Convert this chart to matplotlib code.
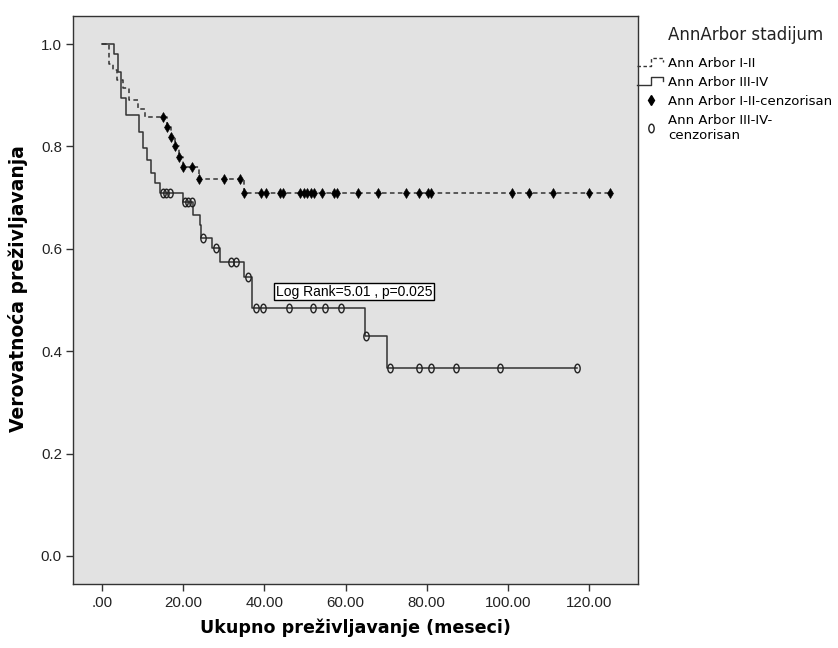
import numpy as np
import matplotlib
matplotlib.use('Agg')
import matplotlib.pyplot as plt
from matplotlib.path import Path
from matplotlib.lines import Line2D
from matplotlib.legend_handler import HandlerBase
from matplotlib.transforms import Affine2D

plt.rcParams['font.family'] = ['Liberation Sans', 'DejaVu Sans']

# Ann Arbor I-II : vremena dogadjaja, prezivljavanje, cenzorisani
t_12 = [1.8, 2.8, 3.8, 5.2, 6.8, 9.0, 10.7, 16.0, 17.0, 18.0, 19.0, 20.0, 24.0, 35.0]
s_12 = [0.962, 0.950, 0.930, 0.915, 0.891, 0.874, 0.857, 0.838, 0.818, 0.800,
        0.779, 0.759, 0.736, 0.710]
c_12 = [15.1, 16.0, 17.0, 18.0, 19.0, 20.0, 22.1, 24.0, 30.0, 34.1, 35.0, 39.2,
        40.3, 43.8, 44.7, 48.9, 49.8, 50.6, 51.4, 52.2, 54.1, 57.1, 58.0, 63.1,
        68.0, 75.0, 78.1, 80.2, 81.0, 101.1, 105.1, 111.0, 120.0, 125.0]

# Ann Arbor III-IV
t_34 = [3.0, 4.0, 4.8, 5.9, 9.1, 10.1, 11.2, 12.1, 13.1, 14.3, 20.0, 22.5, 24.1,
        24.5, 27.0, 29.1, 35.0, 36.9, 64.8, 70.1]
s_34 = [0.980, 0.946, 0.895, 0.861, 0.829, 0.797, 0.773, 0.748, 0.728, 0.710,
        0.692, 0.666, 0.646, 0.622, 0.601, 0.575, 0.545, 0.484, 0.430, 0.368]
c_34 = [15.1, 15.9, 16.7, 20.4, 21.3, 22.1, 24.9, 28.0, 31.9, 33.0, 36.0, 37.9,
        39.7, 46.1, 51.9, 54.9, 59.0, 65.0, 70.9, 78.1, 81.0, 87.1, 98.0, 117.1]

xticks = [0, 20, 40, 60, 80, 100, 120]
xticklabels = ['.00', '20.00', '40.00', '60.00', '80.00', '100.00', '120.00']
yticks = [0.0, 0.2, 0.4, 0.6, 0.8, 1.0]
yticklabels = ['0.0', '0.2', '0.4', '0.6', '0.8', '1.0']

labels = ['Ann Arbor I-II', 'Ann Arbor III-IV', 'Ann Arbor I-II-cenzorisan',
          'Ann Arbor III-IV-\ncenzorisan']


def km_curve(t, s, c):
    x = [0.0] + list(t) + [max(c)]
    y = [1.0] + list(s) + [s[-1]]
    full = np.array([1.0] + list(s))
    idx = np.searchsorted(np.array(t), np.array(c), side='right')
    return x, y, full[idx]


# marker u obliku nule (elipsa)
ellipse = Path.unit_circle().transformed(Affine2D().scale(0.62, 1.0))


class StepHandler(HandlerBase):
    def create_artists(self, legend, orig, xdescent, ydescent, width, height,
                       fontsize, trans):
        x0 = -xdescent
        y0 = -ydescent
        xs = [x0, x0 + 0.5 * width, x0 + 0.5 * width, x0 + 0.95 * width, x0 + 0.95 * width]
        ys = [y0 + 0.1 * height, y0 + 0.1 * height, y0 + 1.0 * height,
              y0 + 1.0 * height, y0 + 0.5 * height]
        ln = Line2D(xs, ys, color=orig.get_color(), linewidth=orig.get_linewidth(),
                    transform=trans)
        if orig.get_linestyle() == '--':
            ln.set_dashes((2.5, 1.8))
        return [ln]


fig = plt.figure(figsize=(8.38, 6.48), dpi=100)
ax = fig.add_axes([73 / 838, 1 - 584 / 648, (638 - 73) / 838, (584 - 16) / 648])
ax.set_facecolor('#e2e2e2')

lc = '#333333'
x12, y12, cy12 = km_curve(t_12, s_12, c_12)
x34, y34, cy34 = km_curve(t_34, s_34, c_34)

ax.step(x12, y12, where='post', color=lc, lw=1.1, dashes=(3, 2.2))
ax.step(x34, y34, where='post', color=lc, lw=1.1)
ax.plot(c_12, cy12, linestyle='none', marker='d', markersize=5.5,
        color='black', markeredgewidth=0.4)
ax.plot(c_34, cy34, linestyle='none', marker=ellipse, markersize=6.2,
        markerfacecolor='none', markeredgecolor='#222222', markeredgewidth=1.0)

ax.text(42.8, 0.516, 'Log Rank=5.01 , p=0.025', fontsize=10, va='center', ha='left',
        bbox=dict(boxstyle='square,pad=0.1', facecolor='white', edgecolor='black', lw=1.0))

ax.set_xlim(-7.1, 132)
ax.set_ylim(-0.055, 1.055)
ax.set_xticks(xticks)
ax.set_xticklabels(xticklabels)
ax.set_yticks(yticks)
ax.set_yticklabels(yticklabels)
ax.tick_params(direction='out', length=5, width=1.0, color='#333333',
               labelsize=10.8, labelcolor='#222222')
ax.tick_params(axis='x', pad=3.5)
ax.tick_params(axis='y', pad=3)
for sp in ax.spines.values():
    sp.set_color('#333333')
    sp.set_linewidth(1.0)

ax.set_xlabel('Ukupno preživljavanje (meseci)', fontsize=12.6, fontweight='bold',
              family='DejaVu Sans', va='center')
ax.xaxis.set_label_coords(0.5, -(628 - 584) / 568)
ax.set_ylabel('Verovatnoća preživljavanja', fontsize=13.5, fontweight='bold',
              family='DejaVu Sans', va='center')
ax.yaxis.set_label_coords(-(73 - 18) / 565, 0.52)

# legenda
h1 = Line2D([], [], color=lc, lw=1.0, linestyle='--')
h2 = Line2D([], [], color=lc, lw=1.0, linestyle='-')
h3 = Line2D([], [], linestyle='none', marker='d', markersize=5.5, color='black')
h4 = Line2D([], [], linestyle='none', marker=ellipse, markersize=6.2,
            markerfacecolor='none', markeredgecolor='#222222', markeredgewidth=1.0)
fig.text(668 / 838, 1 - 35 / 648, 'AnnArbor stadijum', fontsize=12, va='center',
         ha='left', color='#222222', family='DejaVu Sans')
fig.legend([h1, h2, h3, h4], labels, loc='upper left',
           bbox_to_anchor=(637 / 838, 1 - 57 / 648), frameon=False,
           prop={'family': 'DejaVu Sans', 'size': 9.5},
           handlelength=2.1, handletextpad=0.25, borderpad=0, borderaxespad=0,
           labelspacing=0.45, handler_map={h1: StepHandler(), h2: StepHandler()})

fig.savefig('out.png', dpi=100)
